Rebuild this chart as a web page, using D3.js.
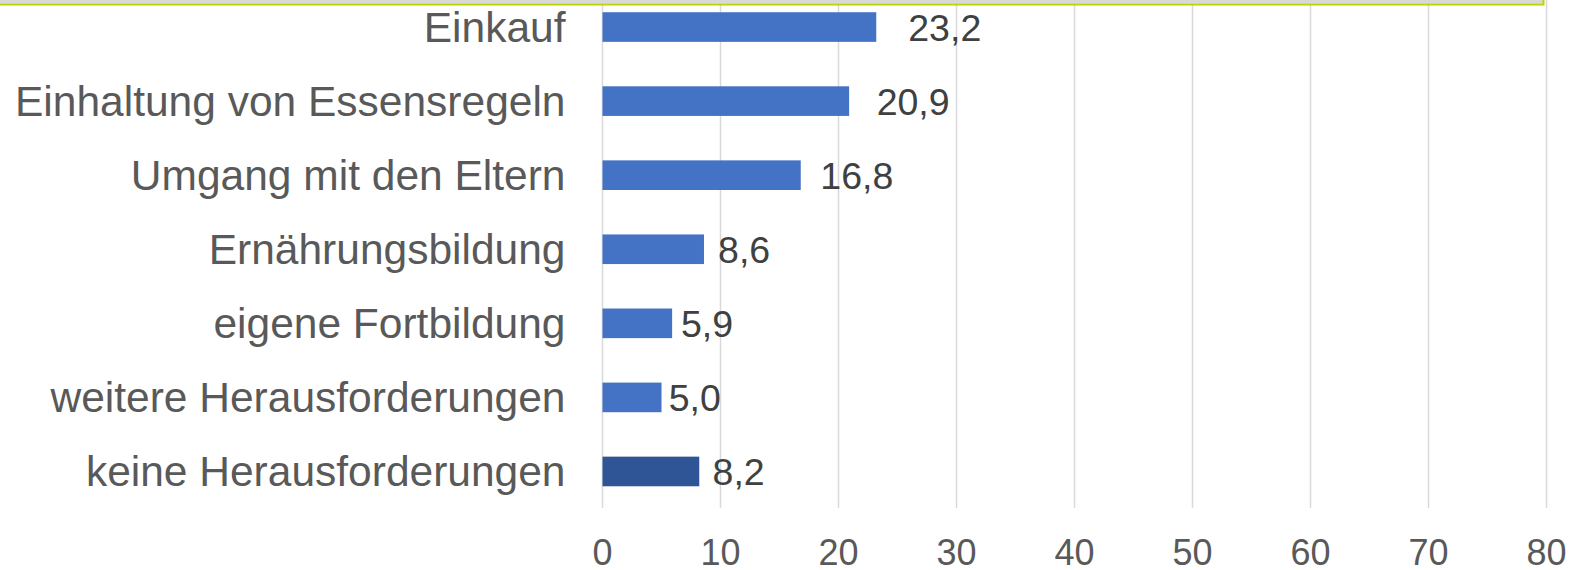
<!DOCTYPE html>
<html>
<head>
<meta charset="utf-8">
<script src="https://cdn.jsdelivr.net/npm/d3@7"></script>
<style>
  body { margin: 0; background: #fff; }
  text { font-family: "Liberation Sans", Arial, sans-serif; }
</style>
</head>
<body>
<div id="chart"></div>
<script>
// data
const categories = ["Einkauf", "Einhaltung von Essensregeln", "Umgang mit den Eltern",
  "Ernährungsbildung", "eigene Fortbildung", "weitere Herausforderungen", "keine Herausforderungen"];
const values = [23.2, 20.9, 16.8, 8.6, 5.9, 5.0, 8.2];
const labels = ["23,2", "20,9", "16,8", "8,6", "5,9", "5,0", "8,2"];
const ticks = [0, 10, 20, 30, 40, 50, 60, 70, 80];

const w = 1574, h = 570;
const svg = d3.select("#chart").append("svg").attr("width", w).attr("height", h);

const x = d3.scaleLinear().domain([0, 80]).range([602.5, 1546.5]);
const y = d3.scaleBand().domain(categories).range([-10, 508.5]).paddingInner(0.6).paddingOuter(0.3);
// excel put the value labels a bit further out than the bar ends
const xLabel = d3.scaleLinear().domain([0, 80]).range([626, 626 + 13.74 * 80]);

// gridlines
svg.selectAll("line.grid")
  .data(ticks)
  .enter()
  .append("line")
  .attr("class", "grid")
  .attr("x1", d => x(d)).attr("x2", d => x(d))
  .attr("y1", 0).attr("y2", 508)
  .style("stroke", "#d9d9d9")
  .style("stroke-width", 1.5);

// bars
svg.selectAll("rect.bar")
  .data(values)
  .enter()
  .append("rect")
  .attr("class", "bar")
  .attr("x", x(0))
  .attr("y", (d, i) => y(categories[i]))
  .attr("width", d => x(d) - x(0))
  .attr("height", y.bandwidth())
  .style("fill", (d, i) => i == categories.length - 1 ? "#2f5597" : "#4472c4");

// value labels
svg.selectAll("text.val")
  .data(values)
  .enter()
  .append("text")
  .attr("class", "val")
  .attr("x", d => xLabel(d))
  .attr("y", (d, i) => y(categories[i]) + y.bandwidth() / 2 + 13.5)
  .attr("text-anchor", "middle")
  .style("font-size", "37.5px")
  .style("fill", "#404040")
  .text((d, i) => labels[i]);

// category labels
svg.selectAll("text.cat")
  .data(categories)
  .enter()
  .append("text")
  .attr("class", "cat")
  .attr("x", x(0) - 37)
  .attr("y", d => y(d) + y.bandwidth() / 2 + 14.5)
  .attr("text-anchor", "end")
  .style("font-size", "42.5px")
  .style("fill", "#595959")
  .text(d => d);

// x tick labels
svg.selectAll("text.tick")
  .data(ticks)
  .enter()
  .append("text")
  .attr("class", "tick")
  .attr("x", d => x(d))
  .attr("y", 565)
  .attr("text-anchor", "middle")
  .style("font-size", "36px")
  .style("fill", "#595959")
  .text(d => d);

// bit of the frame at the top (cut off)
svg.append("rect").attr("x", 0).attr("y", 0).attr("width", 1544).attr("height", 3.5).style("fill", "#d9d9d9");
svg.append("path")
  .attr("d", "M0,4.5 H1543.5 V0")
  .style("fill", "none")
  .style("stroke", "#bcd400")
  .style("stroke-width", 2);
</script>
</body>
</html>
